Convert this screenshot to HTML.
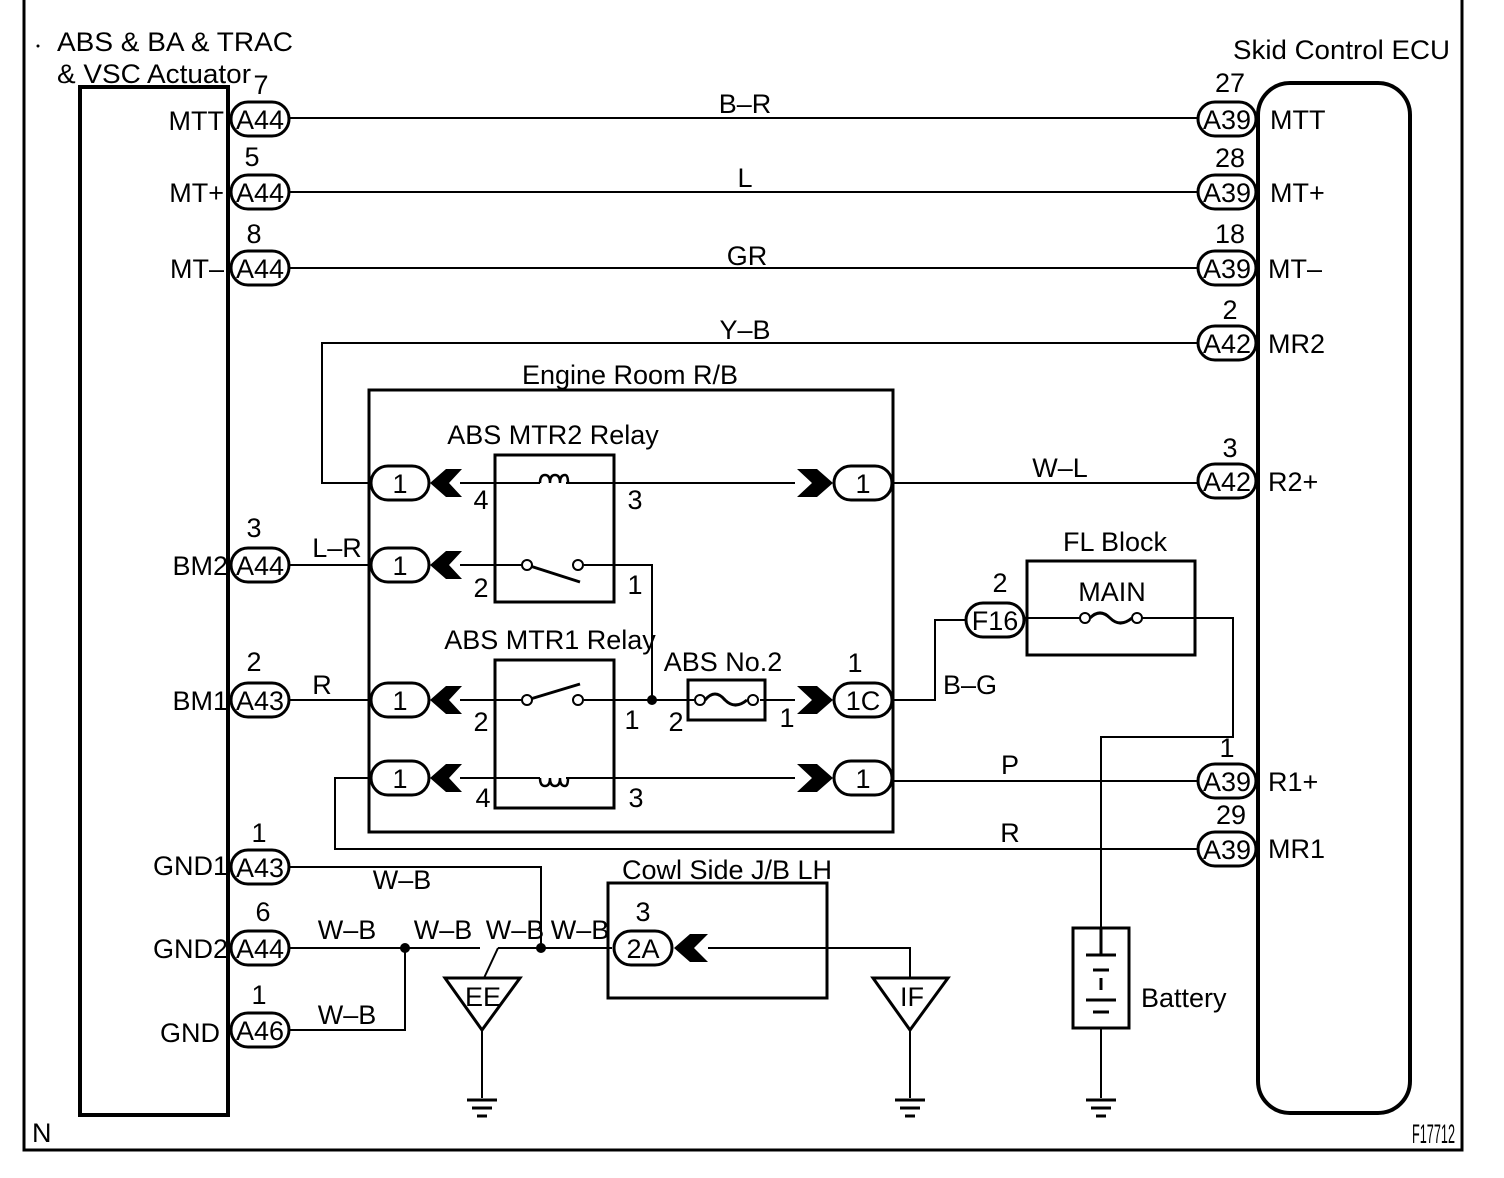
<!DOCTYPE html>
<html><head><meta charset="utf-8"><style>
html,body{margin:0;padding:0;background:#fff;}
svg{display:block;}
text{font-family:"Liberation Sans",Arial,sans-serif;font-size:27px;fill:#000;}
</style></head><body>
<svg width="1504" height="1178" viewBox="0 0 1504 1178" xmlns="http://www.w3.org/2000/svg">
<g fill="none" stroke="#000">
<path d="M24 0 V1150 H1462 V0" stroke-width="3"/>
<rect x="80" y="87" width="148" height="1028" stroke-width="4"/>
<rect x="1258" y="83" width="152" height="1030" rx="32" stroke-width="4"/>
<rect x="369" y="390" width="524" height="442" stroke-width="3"/>
<rect x="495" y="455" width="119" height="147" stroke-width="3"/>
<rect x="495" y="660" width="119" height="148" stroke-width="3"/>
<rect x="608" y="883" width="219" height="115" stroke-width="3"/>
<rect x="1027" y="561" width="168" height="94" stroke-width="3"/>
<rect x="688" y="680" width="77" height="40" stroke-width="3"/>
<rect x="1073" y="928" width="56" height="100" stroke-width="3"/>

<g stroke-width="2">
<path d="M290 118 H1198"/>
<path d="M290 192 H1198"/>
<path d="M290 268 H1198"/>
<path d="M1198 343 H322 V483 H370"/>
<path d="M460 483 H540 M566 483 H795"/>
<path d="M893 483 H1198"/>
<path d="M290 565 H370"/>
<path d="M460 565 H522 M584 565 H652 V700"/>
<path d="M290 700 H370"/>
<path d="M460 700 H522 M584 700 H694 M760 700 H795"/>
<path d="M893 700 H935 V620 H965"/>
<path d="M1025 618 H1080 M1142 618 H1233 V737 H1101 V928"/>
<path d="M1101 1028 V1098"/>
<path d="M460 778 H540 M566 778 H795"/>
<path d="M893 781 H1198"/>
<path d="M1198 849 H335 V778 H370"/>
<path d="M290 867 H541 V948"/>
<path d="M290 948 H480 M498 948 H612"/>
<path d="M498 948 L484 978"/>
<path d="M290 1030 H405 V948"/>
<path d="M708 948 H910 V978"/>
<path d="M482 1030 V1098 M910 1030 V1098"/>
</g>
<path d="M445 978 H520 L482 1030 Z" stroke-width="3"/>
<path d="M873 978 H948 L910 1030 Z" stroke-width="3"/>
<path d="M527 565 L580 582" stroke-width="3"/>
<path d="M527 700 L580 684" stroke-width="3"/>
<path d="M540 483 q0 -8 5 -8 q5 0 5 8 q0 -8 5 -8 q5 0 5 8 q0 -8 5 -8 q3 0 3 8" stroke-width="2.5"/>
<path d="M540 778 q0 8 5 8 q5 0 5 -8 q0 8 5 8 q5 0 5 -8 q0 8 5 8 q3 0 3 -8" stroke-width="2.5"/>
<path d="M705 700 q10 -12 20 0 q10 10 22 0" stroke-width="3"/>
<path d="M1090 618 q10 -10 20 0 q10 10 22 0" stroke-width="3"/>
<g stroke-width="2" fill="#fff">
<circle cx="527" cy="565" r="5"/><circle cx="578" cy="565" r="5"/>
<circle cx="527" cy="700" r="5"/><circle cx="578" cy="700" r="5"/>
<circle cx="700" cy="700" r="5"/><circle cx="753" cy="700" r="5"/>
<circle cx="1085" cy="618" r="5"/><circle cx="1137" cy="618" r="5"/>
</g>
<g stroke-width="3">
<path d="M1086 955 H1116 M1093 970 H1109 M1101 978 V990 M1086 1000 H1116 M1093 1012 H1109"/>
<path d="M1101 928 V955"/>
</g>
<g stroke-width="3">
<path d="M467 1100 H497 M472 1108 H492 M477 1116 H487"/>
<path d="M895 1100 H925 M900 1108 H920 M905 1116 H915"/>
<path d="M1086 1100 H1116 M1091 1108 H1111 M1096 1116 H1106"/>
</g>
<g stroke-width="3" fill="#fff">
<rect x="231" y="102" width="58" height="34" rx="17"/>
<rect x="231" y="175" width="58" height="34" rx="17"/>
<rect x="231" y="251" width="58" height="34" rx="17"/>
<rect x="231" y="548" width="58" height="34" rx="17"/>
<rect x="231" y="683" width="58" height="34" rx="17"/>
<rect x="231" y="850" width="58" height="34" rx="17"/>
<rect x="231" y="931" width="58" height="34" rx="17"/>
<rect x="231" y="1013" width="58" height="34" rx="17"/>
<rect x="1198" y="102" width="58" height="34" rx="17"/>
<rect x="1198" y="175" width="58" height="34" rx="17"/>
<rect x="1198" y="251" width="58" height="34" rx="17"/>
<rect x="1198" y="326" width="58" height="34" rx="17"/>
<rect x="1198" y="464" width="58" height="34" rx="17"/>
<rect x="1198" y="764" width="58" height="34" rx="17"/>
<rect x="1198" y="832" width="58" height="34" rx="17"/>
<rect x="371" y="466" width="58" height="34" rx="17"/>
<rect x="371" y="548" width="58" height="34" rx="17"/>
<rect x="371" y="683" width="58" height="34" rx="17"/>
<rect x="371" y="761" width="58" height="34" rx="17"/>
<rect x="834" y="466" width="58" height="34" rx="17"/>
<rect x="834" y="683" width="58" height="34" rx="17"/>
<rect x="834" y="761" width="58" height="34" rx="17"/>
<rect x="966" y="603" width="58" height="34" rx="17"/>
<rect x="614" y="931" width="58" height="34" rx="17"/>
</g>
</g>
<g fill="#000">
<polygon points="430,483 446,469 462,469 449,483 462,497 446,497"/>
<polygon points="430,565 446,551 462,551 449,565 462,579 446,579"/>
<polygon points="430,700 446,686 462,686 449,700 462,714 446,714"/>
<polygon points="430,778 446,764 462,764 449,778 462,792 446,792"/>
<polygon points="833,483 817,469 797,469 812,483 797,497 817,497"/>
<polygon points="833,700 817,686 797,686 812,700 797,714 817,714"/>
<polygon points="833,778 817,764 797,764 812,778 797,792 817,792"/>
<polygon points="674,948 690,934 708,934 694,948 708,962 690,962"/>
<circle cx="652" cy="700" r="5"/>
<circle cx="405" cy="948" r="5"/>
<circle cx="541" cy="948" r="5"/>
<circle cx="38" cy="46" r="1.5"/>
</g>
<g>
<text x="57" y="51" font-size="29" textLength="236" lengthAdjust="spacingAndGlyphs">ABS &amp; BA &amp; TRAC</text>
<text x="57" y="83" font-size="29" textLength="194" lengthAdjust="spacingAndGlyphs">&amp; VSC Actuator</text>
<text x="1233" y="59" font-size="28" textLength="217" lengthAdjust="spacingAndGlyphs">Skid Control ECU</text>
<text x="630" y="384" text-anchor="middle">Engine Room R/B</text>
<text x="553" y="444" text-anchor="middle">ABS MTR2 Relay</text>
<text x="550" y="649" text-anchor="middle">ABS MTR1 Relay</text>
<text x="723" y="671" text-anchor="middle">ABS No.2</text>
<text x="1115" y="551" text-anchor="middle">FL Block</text>
<text x="1112" y="601" text-anchor="middle">MAIN</text>
<text x="727" y="879" text-anchor="middle">Cowl Side J/B LH</text>
<text x="1141" y="1007">Battery</text>
<text x="32" y="1142" font-size="18">N</text>
<text x="1412" y="1143" font-size="13" textLength="43" lengthAdjust="spacingAndGlyphs">F17712</text>
</g>
<g text-anchor="end">
<text x="224" y="130">MTT</text>
<text x="224" y="202">MT+</text>
<text x="224" y="278">MT–</text>
<text x="228" y="575">BM2</text>
<text x="228" y="710">BM1</text>
<text x="228" y="875">GND1</text>
<text x="228" y="958">GND2</text>
<text x="220" y="1042">GND</text>
</g>
<g>
<text x="1270" y="129">MTT</text>
<text x="1270" y="202">MT+</text>
<text x="1268" y="278">MT–</text>
<text x="1268" y="353">MR2</text>
<text x="1268" y="491">R2+</text>
<text x="1268" y="791">R1+</text>
<text x="1268" y="858">MR1</text>
</g>
<g text-anchor="middle">
<text x="260" y="129">A44</text><text x="260" y="202">A44</text><text x="260" y="278">A44</text>
<text x="260" y="575">A44</text><text x="260" y="710">A43</text><text x="260" y="877">A43</text>
<text x="260" y="958">A44</text><text x="260" y="1040">A46</text>
<text x="1227" y="129">A39</text><text x="1227" y="202">A39</text><text x="1227" y="278">A39</text>
<text x="1227" y="353">A42</text><text x="1227" y="491">A42</text><text x="1227" y="791">A39</text>
<text x="1227" y="859">A39</text>
<text x="400" y="493">1</text><text x="400" y="575">1</text><text x="400" y="710">1</text><text x="400" y="788">1</text>
<text x="863" y="493">1</text><text x="863" y="710">1C</text><text x="863" y="788">1</text>
<text x="995" y="630">F16</text><text x="643" y="958">2A</text>
<text x="261" y="94">7</text><text x="252" y="166">5</text><text x="254" y="243">8</text>
<text x="254" y="537">3</text><text x="254" y="671">2</text><text x="259" y="842">1</text>
<text x="263" y="921">6</text><text x="259" y="1004">1</text>
<text x="1230" y="92">27</text><text x="1230" y="167">28</text><text x="1230" y="243">18</text>
<text x="1230" y="319">2</text><text x="1230" y="457">3</text><text x="1227" y="757">1</text>
<text x="1231" y="824">29</text>
<text x="481" y="509">4</text><text x="635" y="509">3</text><text x="481" y="597">2</text><text x="635" y="594">1</text>
<text x="481" y="731">2</text><text x="632" y="729">1</text><text x="483" y="807">4</text><text x="636" y="807">3</text>
<text x="676" y="731">2</text><text x="787" y="727">1</text>
<text x="855" y="672">1</text><text x="1000" y="592">2</text><text x="643" y="921">3</text>
<text x="745" y="113">B–R</text><text x="745" y="187">L</text><text x="747" y="265">GR</text>
<text x="745" y="339">Y–B</text><text x="1060" y="477">W–L</text><text x="337" y="557">L–R</text>
<text x="322" y="694">R</text><text x="970" y="694">B–G</text><text x="1010" y="774">P</text>
<text x="1010" y="842">R</text><text x="402" y="889">W–B</text>
<text x="347" y="939">W–B</text><text x="443" y="939">W–B</text><text x="515" y="939">W–B</text><text x="580" y="939">W–B</text>
<text x="347" y="1024">W–B</text>
<text x="483" y="1006">EE</text><text x="912" y="1006">IF</text>
</g>
</svg>
</body></html>
